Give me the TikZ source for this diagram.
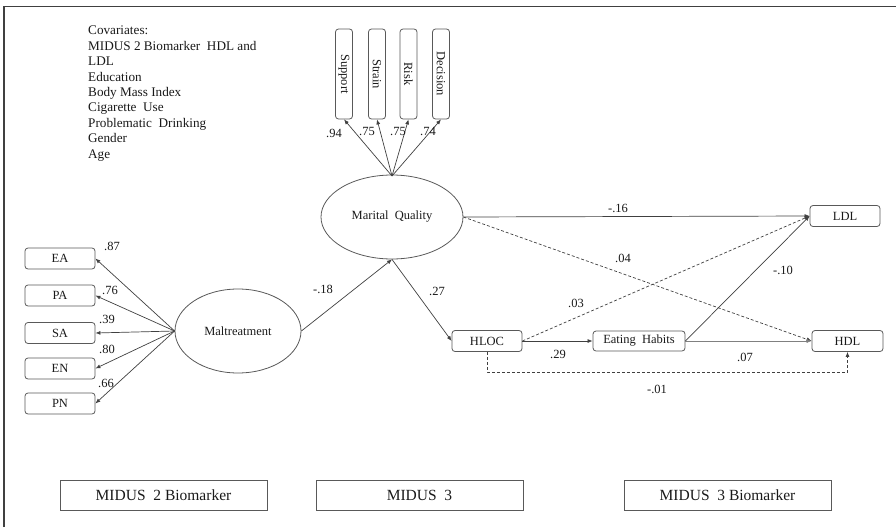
\documentclass[tikz,border=0pt]{standalone}
\usepackage{fontspec}
\setmainfont{Liberation Serif}
\usetikzlibrary{arrows.meta,shapes.geometric}
\tikzset{
  lbl/.style={font=\fontsize{12.5}{15}\selectfont, text=black!90, inner sep=0pt},
  obs/.style={draw=black!65, rounded corners=3pt, line width=0.8pt, minimum width=70pt, minimum height=21pt, inner sep=0pt, font=\fontsize{12.5}{15}\selectfont, text=black!90},
  vobs/.style={draw=black!65, rounded corners=3pt, line width=0.8pt, minimum width=17pt, minimum height=90pt, inner sep=0pt},
  lat/.style={draw=black!65, ellipse, line width=0.8pt, inner sep=0pt, font=\fontsize{12.5}{15}\selectfont, text=black!90},
  wave/.style={draw=black!65, line width=0.8pt, minimum width=207pt, minimum height=30pt, inner sep=0pt, font=\fontsize{15.5}{18}\selectfont, text=black!90},
  arr/.style={draw=black!75, line width=0.7pt, -{Latex[length=5pt,width=4pt]}},
  darr/.style={arr, dashed, dash pattern=on 3pt off 2pt},
}
\begin{document}
\begin{tikzpicture}[x=1pt,y=-1pt]
\useasboundingbox (0,0) rectangle (896,527);
% frame
\draw[black!75, line width=1.2pt] (4,527) -- (4,6.5) -- (896,6.5);
% covariates
\node[lbl, anchor=north west, align=left, font=\fontsize{13.2}{15.4}\selectfont] (cov) at (88,26) {Covariates:\\MIDUS 2 Biomarker\ \ HDL and\\LDL\\Education\\Body Mass Index\\Cigarette\ \ Use\\Problematic\ \ Drinking\\Gender\\Age};
% latent variables
\node[lat, minimum width=142pt, minimum height=84pt] (mq) at (392,217) {Marital\ \ Quality};
\node[lat, minimum width=126pt, minimum height=84pt] (mal) at (238,331) {Maltreatment};
% top indicators
\foreach \n/\x/\t in {sup/344/Support, str/377/Strain, risk/408.5/Risk, dec/441/Decision}{
  \node[vobs] (\n) at (\x,74) {};
  \node[lbl, rotate=-90] (\n t) at (\x,74) {\t};
}
\coordinate (mqtop) at (392,176);
\foreach \n in {sup,str,risk,dec}{ \draw[arr] (mqtop) -- (\n.south); }
\node[lbl] (l94) at (334,133) {.94};
\node[lbl] (l75a) at (367,131) {.75};
\node[lbl] (l75b) at (398,131) {.75};
\node[lbl] (l74) at (428,131) {.74};
% left indicators
\foreach \n/\y in {EA/258.5, PA/295.5, SA/333, EN/368.5, PN/403.5}{
  \node[obs] (\n) at (60,\y) {\n};
  \draw[arr] (mal.west) -- (\n.east);
}
\node[lbl] (l87) at (112,246) {.87};
\node[lbl] (l76) at (110,290) {.76};
\node[lbl] (l39) at (107,319) {.39};
\node[lbl] (l80) at (107,349) {.80};
\node[lbl] (l66) at (106,383) {.66};
% structural paths
\node[obs] (hloc) at (487,341) {HLOC};
\node[obs, minimum width=92pt, minimum height=20pt] (eat) at (639,341) {Eating\ \ Habits};
\node[obs] (ldl) at (845,216) {LDL};
\node[obs, minimum width=71pt] (hdl) at (847.5,341) {HDL};
\draw[arr] (mal.east) -- (mq.south);
\node[lbl] (l18) at (323,289) {-.18};
\draw[arr] (mq.south) -- (hloc.west);
\node[lbl] (l27) at (437,291) {.27};
\draw[arr] (mq.east) -- (ldl.west);
\node[lbl] (l16) at (618,208) {-.16};
\draw[darr] (mq.east) -- (hdl.west);
\node[lbl] (l04) at (623,258) {.04};
\draw[darr] (hloc.east) -- (ldl.west);
\node[lbl] (l03) at (576,303) {.03};
\draw[arr] (hloc.east) -- (eat.west);
\node[lbl] (l29) at (558,354) {.29};
\draw[arr] (eat.east) -- (ldl.west);
\node[lbl] (l10) at (783,270) {-.10};
\draw[arr, draw=black!50, line width=0.5pt] (eat.east) -- (hdl.west);
\node[lbl] (l07) at (745,357) {.07};
\coordinate (c1) at (487,372);
\coordinate (c2) at (847.5,372);
\draw[darr] (hloc.south) -- (c1) -- (c2) -- (hdl.south);
\node[lbl] (l01) at (657,389) {-.01};
% waves
\node[wave] (w1) at (163.5,495) {MIDUS\ \ 2 Biomarker};
\node[wave] (w2) at (419.5,495) {MIDUS\ \ 3};
\node[wave] (w3) at (727.5,495) {MIDUS\ \ 3 Biomarker};
\end{tikzpicture}
\end{document}
